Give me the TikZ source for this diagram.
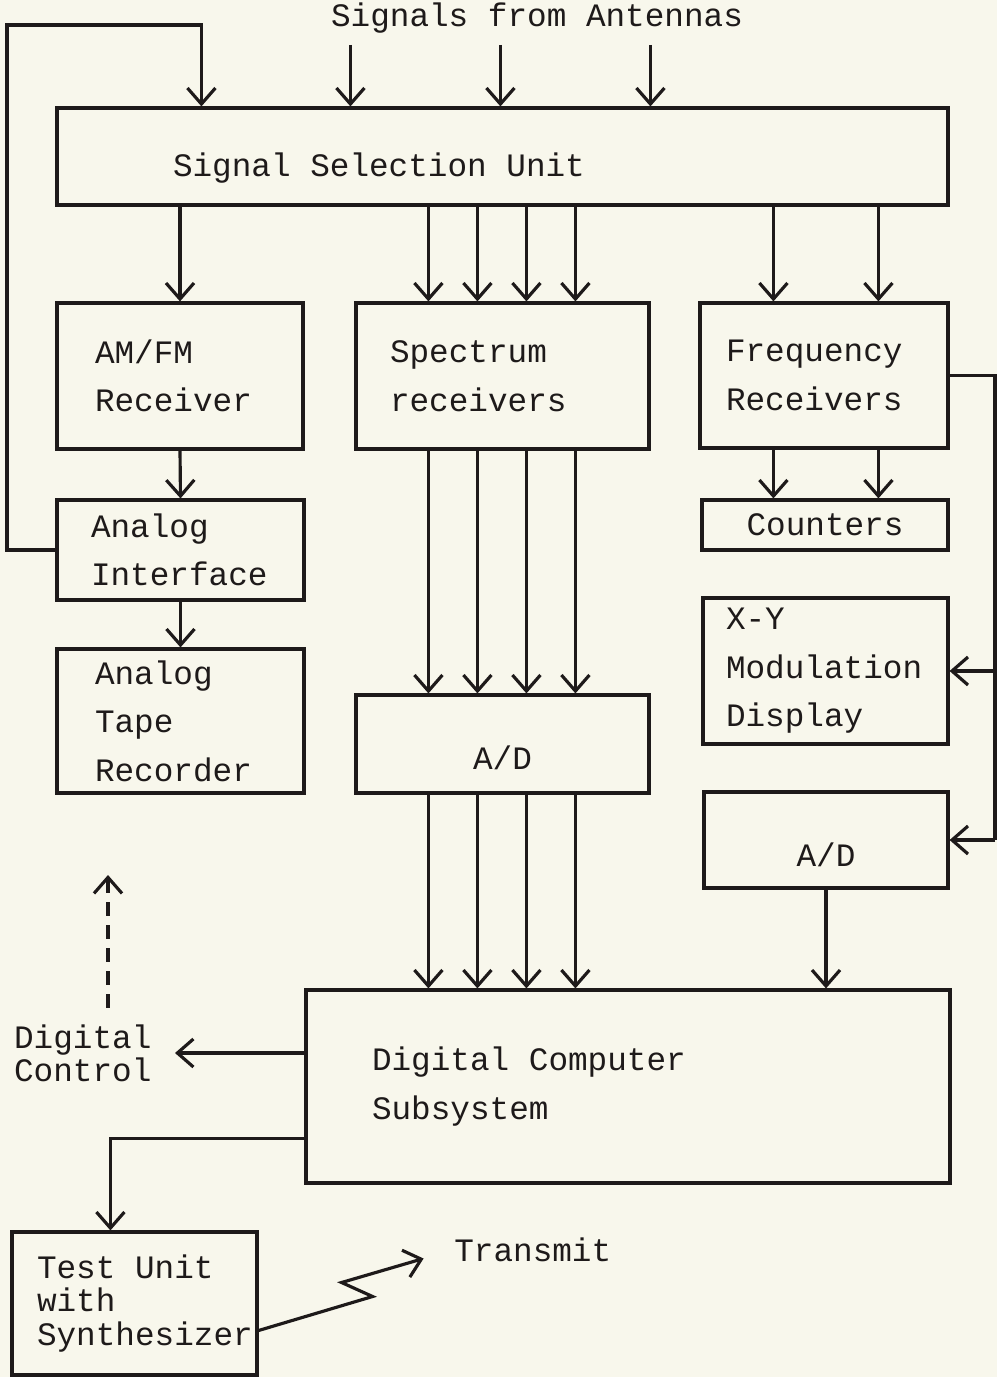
\documentclass[tikz,border=0pt]{standalone}
\usepackage{fontspec}
\setmonofont{Liberation Mono}
\usepackage{tikz}
\usetikzlibrary{arrows.meta,positioning,calc}
\definecolor{paper}{RGB}{248,247,236}
\definecolor{ink}{RGB}{30,26,26}

\begin{document}
\begin{tikzpicture}[x=0.1mm, y=-0.1mm, line width=0.9pt, color=ink,
		>={Straight Barb[length=1.6mm,width=2.8mm]},
		font=\ttfamily\fontsize{9.3}{13.8}\selectfont,
		blk/.style={draw, align=flush left, inner ysep=0pt},
		tight/.style={font=\ttfamily\fontsize{9.3}{9.4}\selectfont}]
				\path[use as bounding box, fill=paper] (0,0) rectangle (997,1377);
				% blocks
				\node[inner ysep=1mm] (sig) at (537,18) {Signals from Antennas};
				\node[blk, text width=6.59cm, inner xsep=1.16cm, minimum height=0.97cm, text height=4.8mm, text depth=0.7mm] (ssu) at (502.5,156.5) {Signal Selection Unit};
				\node[blk, text width=1.70cm, inner xsep=0.38cm, minimum height=1.46cm] (amfm) at (180,376) {AM/FM\\Receiver};
				\node[blk, text width=2.25cm, inner xsep=0.34cm, minimum height=1.46cm] (spec) at (502.5,376) {Spectrum\\receivers};
				\node[blk, text width=1.96cm, inner xsep=0.26cm, minimum height=1.45cm] (freq) at (824,375.5) {Frequency\\Receivers};
				\node[blk, text width=1.79cm, inner xsep=0.34cm, minimum height=1.00cm] (aint) at (180.5,550) {Analog\\Interface};
				\node[blk, text width=1.71cm, inner xsep=0.38cm, minimum height=1.44cm] (atape) at (180.5,721) {Analog\\Tape\\Recorder};
				\node[blk, align=center, minimum width=2.46cm, minimum height=0.50cm] (cnt) at (825,525) {Counters};
				\node[blk, text width=1.99cm, inner xsep=0.23cm, minimum height=1.46cm] (xy) at (825.5,671) {X-Y\\Modulation\\Display};
				\node[blk, align=center, minimum width=2.93cm, minimum height=0.98cm, text height=5.7mm, text depth=0.7mm] (adm) at (502.5,744) {A/D};
				\node[blk, align=center, minimum width=2.44cm, minimum height=0.96cm, text height=5.9mm, text depth=0.7mm] (adr) at (826,840) {A/D};
				\node[blk, text width=5.12cm, inner xsep=0.66cm, minimum height=1.93cm] (dcs) at (628,1086.5) {Digital Computer\\Subsystem};
				\node[blk, tight, text width=1.95cm, inner xsep=0.25cm, minimum height=1.43cm] (test) at (134.5,1303.5) {Test Unit\\with\\\mbox{Synthesizer}};
				\node[tight, align=flush left, inner xsep=2.2mm, inner ysep=1.5mm, anchor=east] (dctl) at (175,1053) {Digital\\Control};
				\node[anchor=west] (trans) at (441,1250) {Transmit};
				% tap points
				\coordinate (in1) at ($(ssu.north west)+(295,0)$);
				\coordinate (in2) at ($(ssu.north west)+(445,0)$);
				\coordinate (in3) at ($(ssu.north west)+(595,0)$);
				\coordinate (fb) at ($(ssu.north west)+(146,0)$);
				\coordinate (corner) at (7,25);
				\coordinate (s1) at ($(spec.north west)+(74,0)$);
				\coordinate (s2) at ($(spec.north west)+(123,0)$);
				\coordinate (s3) at ($(spec.north west)+(172,0)$);
				\coordinate (s4) at ($(spec.north west)+(221,0)$);
				\coordinate (f1) at ($(freq.north west)+(75,0)$);
				\coordinate (f2) at ($(freq.north west)+(180,0)$);
				\coordinate (bus) at (995,0);
				\coordinate (dup) at (108,875);
				\coordinate (t1) at ($(test.north west)+(100,0)$);
				% antenna inputs and feedback
				\draw[->] (sig.south -| in1) -- (in1);
				\draw[->] (sig.south -| in2) -- (in2);
				\draw[->] (sig.south -| in3) -- (in3);
				\draw[->] (aint.west) -| (corner) -| (fb);
				% selection unit outputs
				\draw[->] (ssu.south -| amfm.north) -- (amfm.north);
				\draw[->] (ssu.south -| s1) -- (s1);
				\draw[->] (ssu.south -| s2) -- (s2);
				\draw[->] (ssu.south -| s3) -- (s3);
				\draw[->] (ssu.south -| s4) -- (s4);
				\draw[->] (ssu.south -| f1) -- (f1);
				\draw[->] (ssu.south -| f2) -- (f2);
				% analog chain
				\draw[->] (amfm.south) -- (aint.north);
				\draw[->] (aint.south) -- (atape.north);
				% spectrum chain
				\draw[->] (spec.south -| s1) -- (adm.north -| s1);
				\draw[->] (spec.south -| s2) -- (adm.north -| s2);
				\draw[->] (spec.south -| s3) -- (adm.north -| s3);
				\draw[->] (spec.south -| s4) -- (adm.north -| s4);
				\draw[->] (adm.south -| s1) -- (dcs.north -| s1);
				\draw[->] (adm.south -| s2) -- (dcs.north -| s2);
				\draw[->] (adm.south -| s3) -- (dcs.north -| s3);
				\draw[->] (adm.south -| s4) -- (dcs.north -| s4);
				% frequency chain
				\draw[->] (freq.south -| f1) -- (cnt.north -| f1);
				\draw[->] (freq.south -| f2) -- (cnt.north -| f2);
				\draw (freq.east) -- (freq.east -| bus) -- (adr.east -| bus);
				\draw[->] (xy.east -| bus) -- (xy.east);
				\draw[->] (adr.east -| bus) -- (adr.east);
				\draw[->] (adr.south) -- (adr.south |- dcs.north);
				% computer outputs
				\draw[->] (dcs.west |- dctl.east) -- (dctl.east);
				\draw[->, dash pattern=on 1.4mm off 0.9mm] (dctl.north -| dup) -- (dup);
				\draw[->] ($(dcs.west)+(0,52)$) -| (t1);
				\draw[->] ($(test.east)+(0,27)$) -- ++(114,-34) -- ++(-31,-14) -- ++(82,-24);
			\end{tikzpicture}
\end{document}
